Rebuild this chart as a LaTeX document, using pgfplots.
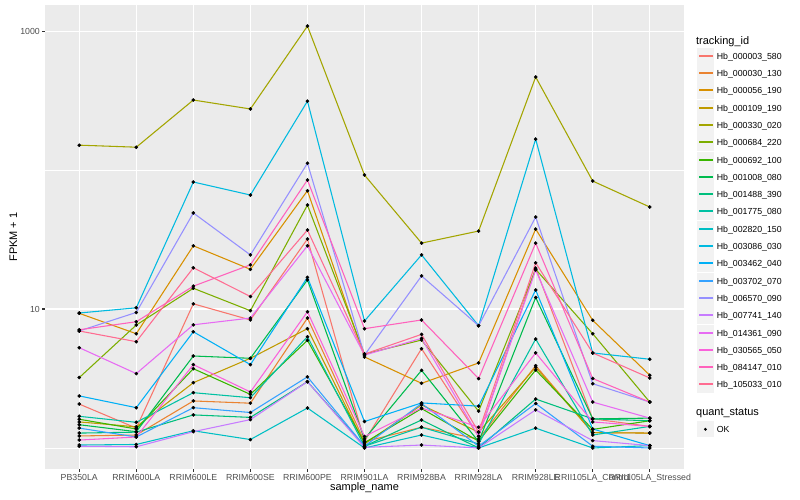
\documentclass[border=0pt]{standalone}
\usepackage{fontspec}
\setmainfont{Liberation Sans}
\usepackage{pgfplots}
\usepackage{pgfplotstable}
\pgfplotsset{compat=1.18}

% ggplot hue palette, 20 levels
\definecolor{c1}{HTML}{F8766D}
\definecolor{c2}{HTML}{EA8331}
\definecolor{c3}{HTML}{D89000}
\definecolor{c4}{HTML}{C09B00}
\definecolor{c5}{HTML}{A3A500}
\definecolor{c6}{HTML}{7CAE00}
\definecolor{c7}{HTML}{39B600}
\definecolor{c8}{HTML}{00BB4E}
\definecolor{c9}{HTML}{00BF7D}
\definecolor{c10}{HTML}{00C1A3}
\definecolor{c11}{HTML}{00BFC4}
\definecolor{c12}{HTML}{00BAE0}
\definecolor{c13}{HTML}{00B0F6}
\definecolor{c14}{HTML}{35A2FF}
\definecolor{c15}{HTML}{9590FF}
\definecolor{c16}{HTML}{C77CFF}
\definecolor{c17}{HTML}{E76BF3}
\definecolor{c18}{HTML}{FA62DB}
\definecolor{c19}{HTML}{FF62BC}
\definecolor{c20}{HTML}{FF6C91}
\definecolor{panelgrey}{HTML}{EBEBEB}
\definecolor{keygrey}{HTML}{F2F2F2}
\definecolor{tickgrey}{HTML}{333333}
\definecolor{labelgrey}{HTML}{4D4D4D}

% FPKM + 1, one column per tracking_id, one row per sample
\pgfplotstableread{
x  s1   s2   s3   s4   s5   s6   s7   s8   s9   s10  s11  s12  s13  s14  s15  s16  s17  s18  s19  s20
0  2.07 1.22 9.31 1.54 151  3.21 1.61 1.47 1.28 1.69 1.05 9.36 2.37 1.39 6.95 1.03 5.27 1.14 7.09 6.95
1  1.39 1.24 6.64 1.42 146  7.67 1.37 1.31 1.30 1.53 1.06 10.2 1.95 1.20 9.45 1.02 3.43 1.20 8.10 5.82
2  10.9 2.18 28.5 2.95 319  14.1 3.72 4.59 1.73 2.50 1.33 82   6.86 1.95 49.1 1.31 7.70 3.98 14.6 19.8
3  8.34 2.10 19.3 4.42 275  9.72 2.43 4.42 1.66 2.30 1.15 66.1 3.98 1.80 24.5 1.60 8.61 2.53 20.8 12.3
4  31.9 8.61 71   7.22 1086 56   5.95 16.2 3.00 6.32 1.94 313  16.9 3.25 112  3.00 28.5 9.56 84.8 37.0
5  1.12 1.11 4.52 1.07 92   4.74 1.09 1.16 1.03 1.03 1.00 8.20 1.55 1.03 4.66 1.01 4.66 1.21 7.22 4.74
6  5.18 1.41 2.92 2.04 29.8 5.98 1.92 3.62 1.59 1.41 1.24 24.5 2.11 2.09 17.3 1.05 6.15 1.94 8.34 6.57
7  1.21 1.16 4.09 1.30 36.4 1.84 1.12 1.11 1.00 1.07 1.00 7.58 2.00 1.03 7.58 1.00 1.21 1.41 3.16 1.30
8  19.7 3.91 37.6 3.81 467  19.3 3.64 12.1 2.25 6.08 1.39 167  13.7 2.09 45.9 1.88 19.1 4.83 29.8 21.5
9  1.62 1.29 8.29 1.29 83.3 6.64 1.36 1.62 1.62 1.24 1.00 4.83 1.37 1.03 2.90 1.13 2.14 1.54 3.16 4.83
10 1.43 1.28 3.34 1.28 54.2 2.14 1.57 1.64 1.57 1.43 1.04 4.35 1.04 1.00 2.14 1.04 1.64 1.43 2.14 3.19
}\fpkm

\begin{document}
\begin{tikzpicture}
\path[use as bounding box] (0,0) rectangle (800bp,500bp);
\begin{axis}[
    at={(45bp,31bp)}, anchor=south west,
    scale only axis, width=639bp, height=464bp,
    ymode=log,
    xmin=-0.6, xmax=10.6,
    ymin=0.706, ymax=1540,
    xtick={0,...,10},
    xticklabels={PB350LA,RRIM600LA,RRIM600LE,RRIM600SE,RRIM600PE,RRIM901LA,RRIM928BA,RRIM928LA,RRIM928LE,RRII105LA\_Control,RRII105LA\_Stressed},
    ytick={10,1000},
    yticklabels={10,1000},
    minor ytick={1,100},
    minor xtick={},
    xmajorgrids, ymajorgrids, yminorgrids,
    major grid style={white, line width=1.07bp},
    minor grid style={white, line width=0.53bp},
    axis background/.style={fill=panelgrey},
    axis line style={draw=none},
    tick align=outside,
    xtick pos=bottom, ytick pos=left,
    major tick length=2.74bp,
    minor tick length=0pt,
    tick style={draw=tickgrey, line width=1.07bp},
    /pgf/number format/assume math mode=true,
    tick label style={font=\fontsize{8.8}{10}\selectfont, text=labelgrey, inner sep=0pt},
    xticklabel style={yshift=-2.2bp},
    yticklabel style={xshift=-2.2bp},
    xlabel={sample\_name},
    ylabel={FPKM + 1},
    label style={font=\fontsize{11}{13}\selectfont},
    xlabel style={at={(axis description cs:0.5,-0.0474)}, anchor=base},
    ylabel style={at={(axis description cs:-0.0438,0.5)}, anchor=base},
]
\pgfplotsinvokeforeach{1,...,20}{
  \addplot[c#1, line width=1.07bp, no marks] table[x=x, y=s#1] {\fpkm};
}
\pgfplotsinvokeforeach{1,...,20}{
  \addplot[only marks, mark=*, mark size=1.6bp, black] table[x=x, y=s#1] {\fpkm};
}
\end{axis}

% legend (ggplot style)
\begin{scope}[x=1bp, y=1bp]
\node[anchor=base west, inner sep=0pt, font=\fontsize{11}{13}\selectfont] at (696,455.4) {tracking\_id};
\foreach \nm [count=\k] in {000003\_580,000030\_130,000056\_190,000109\_190,000330\_020,000684\_220,000692\_100,001008\_080,001488\_390,001775\_080,002820\_150,003086\_030,003462\_040,003702\_070,006570\_090,007741\_140,014361\_090,030565\_050,084147\_010,105033\_010}{
  \pgfmathsetmacro\yy{round(443.3-17.3*(\k-1))+0.5}
  \fill[keygrey] (697.3,\yy-8.1) rectangle ++(16.2,16.2);
  \draw[draw=c\k, line width=2bp] (699,\yy) -- ++(13.9,0);
  \node[anchor=base west, inner sep=0pt, font=\fontsize{8.8}{10}\selectfont] at (716.7,\yy-3.15) {Hb\_\nm};
}
\node[anchor=base west, inner sep=0pt, font=\fontsize{11}{13}\selectfont] at (696,84.4) {quant\_status};
\fill[keygrey] (697.3,70.7-8.1) rectangle ++(16.2,16.2);
\fill[black] (705.4,70.7) circle (1.6);
\node[anchor=base west, inner sep=0pt, font=\fontsize{8.8}{10}\selectfont] at (716.7,67.55) {OK};
\end{scope}
\end{tikzpicture}
\end{document}
